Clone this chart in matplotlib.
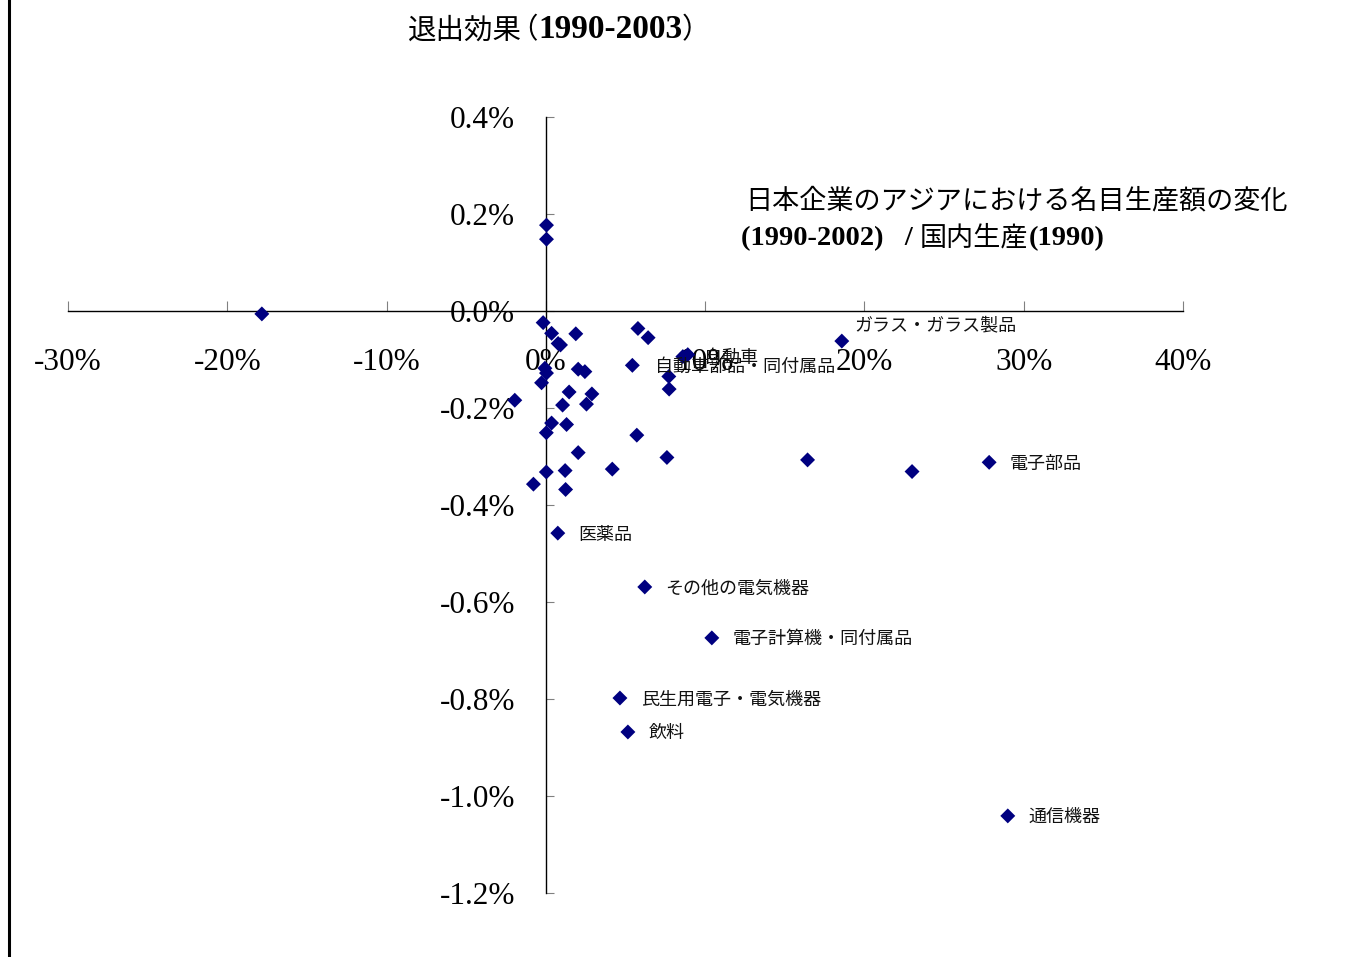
import matplotlib.pyplot as plt
from matplotlib.lines import Line2D
from matplotlib.offsetbox import TextArea, HPacker, AnnotationBbox

# x: Japanese firms' nominal production change in Asia (1990-2002) / domestic production (1990), in %
# y: exit effect (1990-2003), in %
x_pct = [-17.83, -0.17, 0.36, 1.88, 0.77, 0.92, -0.06, 0.04, -0.27, 2.03,
         2.45, 1.46, 2.89, -1.95, 1.05, 2.55, 0.36, 1.30, 0.03, 2.03,
         4.17, 0.03, 1.21, -0.78, 1.24, 5.78, 6.42, 7.72, 7.74, 8.60,
         5.71, 7.60, 16.43, 22.99, 0.04, 0.04]
y_pct = [-0.006, -0.024, -0.046, -0.047, -0.067, -0.070, -0.118, -0.128, -0.148, -0.120,
         -0.125, -0.167, -0.171, -0.184, -0.194, -0.192, -0.231, -0.234, -0.251, -0.292,
         -0.326, -0.332, -0.329, -0.357, -0.368, -0.036, -0.055, -0.135, -0.161, -0.094,
         -0.256, -0.302, -0.307, -0.331, 0.177, 0.148]

# labelled industries
lab_names = ['自動車部品・同付属品', '自動車', 'ガラス・ガラス製品', '電子部品', '医薬品',
             'その他の電気機器', '電子計算機・同付属品', '民生用電子・電気機器', '飲料', '通信機器']
lab_x = [5.43, 8.91, 18.58, 27.83, 0.75, 6.21, 10.42, 4.65, 5.15, 29.00]
lab_y = [-0.112, -0.090, -0.062, -0.312, -0.458, -0.569, -0.674, -0.798, -0.868, -1.041]

x_ticks = [-30, -20, -10, 0, 10, 20, 30, 40]
x_ticklabels = ['-30%', '-20%', '-10%', '0%', '10%', '20%', '30%', '40%']
y_ticks = [0.4, 0.2, 0.0, -0.2, -0.4, -0.6, -0.8, -1.0, -1.2]
y_ticklabels = ['0.4%', '0.2%', '0.0%', '-0.2%', '-0.4%', '-0.6%', '-0.8%', '-1.0%', '-1.2%']

JP = ['Noto Sans CJK JP', 'DejaVu Sans']
SERIF = ['Liberation Serif', 'Noto Sans CJK JP']

W, H = 1346, 957
fig = plt.figure(figsize=(W / 100, H / 100), dpi=100)
ax = fig.add_axes([68 / W, 1 - 893 / H, (1183 - 68) / W, (893 - 117) / H])

ax.scatter(x_pct + lab_x, y_pct + lab_y, marker='D', s=58, color='#000080',
           edgecolors='none', zorder=3, clip_on=False)

offsets = {'ガラス・ガラス製品': (9, 11), '自動車部品・同付属品': (16, -1), '自動車': (12, -2)}
for name, xv, yv in zip(lab_names, lab_x, lab_y):
    ax.annotate(name, (xv, yv), xytext=offsets.get(name, (15, -1)), textcoords='offset points',
                va='center', ha='left', fontsize=13, family=JP, color='#111111', zorder=4)

ax.set_xlim(-30, 40)
ax.set_ylim(-1.2, 0.4)
for s in ['top', 'right']:
    ax.spines[s].set_visible(False)
ax.spines['left'].set_position(('data', 0))
ax.spines['bottom'].set_position(('data', 0))
ax.spines['left'].set_linewidth(1.0)
ax.spines['bottom'].set_linewidth(1.0)

ax.set_xticks(x_ticks)
ax.set_xticklabels(x_ticklabels, family=SERIF, fontsize=22.5)
ax.set_yticks(y_ticks)
ax.set_yticklabels(y_ticklabels, family=SERIF, fontsize=22.5)
ax.tick_params(axis='x', direction='in', length=7, width=0.8, color='#808080', pad=27)
ax.tick_params(axis='y', direction='in', length=6, width=0.8, color='#808080', pad=22)
ax.patch.set_visible(False)

# left border line of the picture
fig.add_artist(Line2D([8.5 / W, 8.5 / W], [0, 1], transform=fig.transFigure,
                      color='black', linewidth=2.2))


def place(box, x_px, y_px):
    ab = AnnotationBbox(box, (x_px, H - y_px), xycoords='figure pixels',
                        box_alignment=(0, 0.5), frameon=False, pad=0)
    fig.add_artist(ab)


def row(parts, sep=0):
    boxes = [TextArea(t, textprops=p) if isinstance(t, str) else t for t, p in parts]
    return HPacker(children=boxes, pad=0, sep=sep, align='baseline')


jp_title = dict(family=JP, fontsize=20.5)
num_title = dict(family=SERIF, fontsize=24, fontweight='bold')
head = row([('退出効果', jp_title), ('（', jp_title)], sep=-9)
place(row([(head, None), ('1990-2003', num_title), ('）', jp_title)]), 408, 30)

jp_lab = dict(family=JP, fontsize=19.5)
num_lab = dict(family=SERIF, fontsize=20.5, fontweight='bold')
place(row([('日本企業のアジアにおける名目生産額の変化', jp_lab)]), 745, 201)
place(row([('(1990-2002)   / ', num_lab), ('国内生産', jp_lab), ('(1990)', num_lab)]), 741, 238)

fig.savefig('out.png', dpi=100)
